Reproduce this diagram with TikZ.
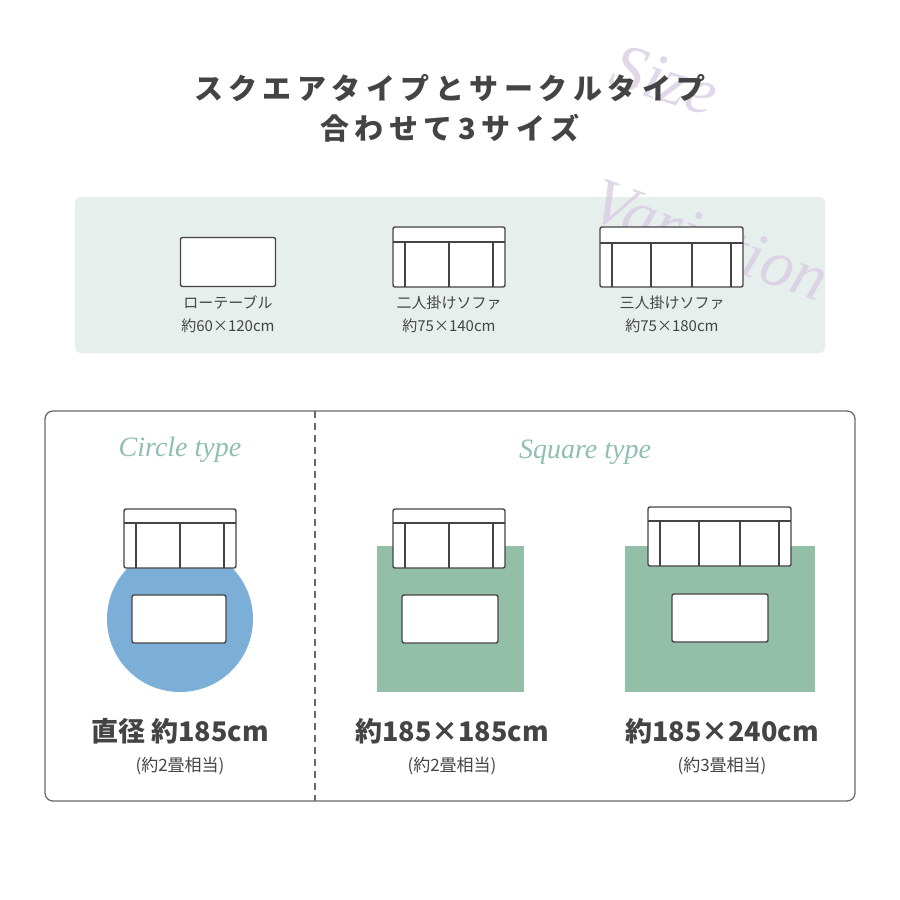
\documentclass[tikz,border=0pt]{standalone}
\usepackage{fontspec}
\setmainfont{Noto Sans CJK JP}
\newfontfamily\scr{Liberation Serif}
\definecolor{txt}{HTML}{444444}
\definecolor{panel}{HTML}{E7EFED}
\definecolor{mint}{HTML}{8FBFB0}
\definecolor{lav}{HTML}{D9CDE3}
\definecolor{rugblue}{HTML}{7BAFD8}
\definecolor{ruggreen}{HTML}{93BFA8}
\newcommand{\ks}{\hspace{5.5pt}}
\tikzset{
  furn/.style={draw=txt,line width=1.4pt,fill=white,rounded corners=2pt},
  fline/.style={draw=txt,line width=1.2pt},
  lbl/.style={text=txt,font=\fontsize{15}{23}\selectfont,align=center},
  big/.style={text=txt,font=\fontsize{27}{30}\selectfont\bfseries},
  small/.style={text=txt,font=\fontsize{17}{20}\selectfont},
  script/.style={text=mint,font=\fontsize{28}{30}\selectfont\itshape\scr},
  wm/.style={text=lav,opacity=0.8,font=\fontsize{66}{66}\selectfont\itshape\scr},
  ttl/.style={text=txt,font=\fontsize{29}{32}\selectfont\bfseries}
}
\begin{document}
\begin{tikzpicture}[x=1pt,y=-1pt]
\useasboundingbox (0,0) rectangle (900,900);
\fill[white] (0,0) rectangle (900,900);
% panel
\fill[panel,rounded corners=6pt] (75,197) rectangle (825,353);
% watermark
\node[wm,rotate=-18] (wm1) at (665,80) {Size};
\node[wm,rotate=-20] (wm2) at (710,240) {Variation};
% title
\node[ttl] (t1) at (450,88) {ス\ks ク\ks エ\ks ア\ks タ\ks イ\ks プ\ks と\ks サ\ks ー\ks ク\ks ル\ks タ\ks イ\ks プ};
\node[ttl] (t2) at (450,128) {合\ks わ\ks せ\ks て\ks 3\ks サ\ks イ\ks ズ};
\node[furn,minimum width=95,minimum height=49,inner sep=0] (tab) at (228,262) {};
\draw[furn] (393,227) rectangle (505,287);
\draw[fline] (393,242)--(505,242) (405,242)--(405,287) (449,242)--(449,287) (493,242)--(493,287);
\draw[furn] (600,227) rectangle (743,287);
\draw[fline] (600,243)--(743,243) (612,243)--(612,287) (651,243)--(651,287) (692,243)--(692,287) (731,243)--(731,287);
\node[lbl] (l1) at (228,314) {ローテーブル\\約60×120cm};
\node[lbl] (l2) at (449,314) {二人掛けソファ\\約75×140cm};
\node[lbl] (l3) at (672,314) {三人掛けソファ\\約75×180cm};
% frame
\draw[draw=txt!80,line width=1.3pt,rounded corners=8pt] (45,411) rectangle (855,801);
\draw[txt!80,line width=1.3pt,dash pattern=on 7pt off 5pt] (315,411)--(315,801);
\node[script] (ct) at (180,450) {Circle type};
\node[script] (st) at (585,452) {Square type};
% circle
\fill[rugblue] (180,619) circle (73);
\draw[furn] (124,509) rectangle (236,568);
\draw[fline] (124,523)--(236,523) (136,523)--(136,568) (180,523)--(180,568) (224,523)--(224,568);
\draw[furn] (132,595) rectangle (226,643);
% square 1
\fill[ruggreen] (377,546) rectangle (524,692);
\draw[furn] (393,509) rectangle (505,568);
\draw[fline] (393,523)--(505,523) (405,523)--(405,568) (449,523)--(449,568) (493,523)--(493,568);
\draw[furn] (402,595) rectangle (498,643);
% square 2
\fill[ruggreen] (625,546) rectangle (815,692);
\draw[furn] (648,507) rectangle (791,566);
\draw[fline] (648,521)--(791,521) (660,521)--(660,566) (699,521)--(699,566) (740,521)--(740,566) (779,521)--(779,566);
\draw[furn] (672,594) rectangle (768,642);
% labels
\node[big] (b1) at (180,731) {直径 約185cm};
\node[small] (s1) at (180,766) {(約2畳相当)};
\node[big] (b2) at (452,731) {約185×185cm};
\node[small] (s2) at (452,766) {(約2畳相当)};
\node[big] (b3) at (722,731) {約185×240cm};
\node[small] (s3) at (722,766) {(約3畳相当)};
\end{tikzpicture}
\end{document}
